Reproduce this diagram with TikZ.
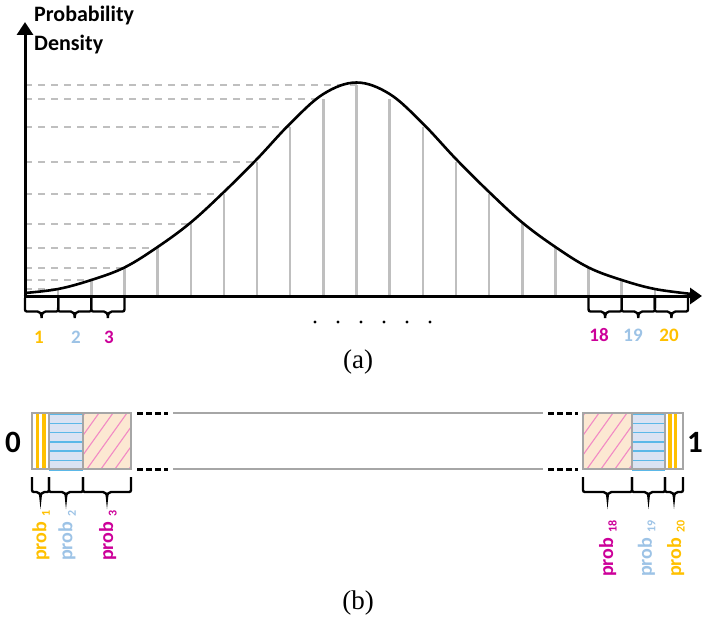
\documentclass[tikz,border=0pt]{standalone}
\usepackage{fontspec}
\newfontfamily\carl{Carlito}
\newfontfamily\tnr{Liberation Serif}
\usetikzlibrary{arrows.meta}
\definecolor{gline}{HTML}{BFBFBF}
\definecolor{gbox}{HTML}{A6A6A6}
\definecolor{orng}{HTML}{FFC000}
\definecolor{lblue}{HTML}{9DC3E6}
\definecolor{mag}{HTML}{CC0099}
\definecolor{hblue}{HTML}{5BB8E8}
\definecolor{bfill}{HTML}{DAE3F3}
\definecolor{pfill}{HTML}{FCE8D2}
\definecolor{pline}{HTML}{F28AC4}
\newcommand{\mybrace}[5]{%
  \pgfmathsetmacro\brmid{(#1+#2)/2}%
  \draw[bracestyle] (#1,#3) -- (#1,#4-4) .. controls (#1,#4) .. (#1+4,#4) -- (\brmid-4,#4) .. controls (\brmid-1.5,#4) and (\brmid,#4+2) .. (\brmid,#5) .. controls (\brmid,#4+2) and (\brmid+1.5,#4) .. (\brmid+4,#4) -- (#2-4,#4) .. controls (#2,#4) .. (#2,#4-4) -- (#2,#3);}
\newcommand{\pb}[1]{prob\kern5pt{\fontsize{12}{12}\selectfont\raisebox{-3.5pt}{#1}}}
\begin{document}
\begin{tikzpicture}[x=1pt,y=-1pt,
  axisline/.style={line width=3pt,black},
  vline/.style={line width=2.5pt,gline},
  hdash/.style={line width=2.5pt,gline,dash pattern=on 7pt off 6pt},
  curveline/.style={line width=2.6pt,black},
  bracestyle/.style={line width=2.3pt,black},
  numlab/.style={font=\carl\bfseries\fontsize{19}{19}\selectfont},
  problab/.style={font=\carl\bfseries\fontsize{20}{20}\selectfont,rotate=90,anchor=west,inner sep=0pt},
  cellborder/.style={line width=2.5pt,gbox},
  blkdash/.style={line width=3pt,black,dash pattern=on 6pt off 3pt},
  grayrule/.style={line width=2.5pt,gbox},
  captext/.style={font=\tnr\fontsize{27}{27}\selectfont}]
\useasboundingbox (0,0) rectangle (703,618);
% ---------- (a) ----------
\coordinate (O) at (25,296);
\coordinate (ytip) at (25,22);
\coordinate (xtip) at (702,296);
\foreach \k/\yy in {1/289,2/280,3/268,4/248,5/224,6/194,7/162,8/127,9/99,10/85}{
  \draw[hdash] (25,\yy) -- ({25+33.15*\k},\yy);
}
\foreach \k/\yy in {1/289,2/280,3/268,4/248,5/224,6/194,7/162,8/127,9/99,10/85,11/99,12/127,13/162,14/194,15/224,16/248,17/268,18/280,19/289}{
  \draw[vline] ({25+33.15*\k},296) -- ({25+33.15*\k},\yy);
}
\draw[curveline] plot[smooth,tension=0.6] coordinates {(25,293) (58.15,289) (91.3,280) (124.45,267.5) (157.6,247) (190.75,222.5) (223.9,192) (257.05,159) (290.2,123.5) (323.35,94) (356.5,82.5) (389.65,94) (422.8,123.5) (455.95,159) (489.1,192) (522.25,222.5) (555.4,247) (588.55,267.5) (621.7,280) (654.85,289) (692,294)};
\draw[axisline,-{Triangle[width=16pt,length=13pt]}] (25,297.5) -- (ytip);
\draw[axisline,-{Triangle[width=16pt,length=12pt]}] (23.5,296) -- (xtip);
\node[font=\carl\bfseries\fontsize{22}{22}\selectfont,anchor=base west,inner sep=0pt] (pr) at (34,22) {Probability};
\node[font=\carl\bfseries\fontsize{22}{22}\selectfont,anchor=base west,inner sep=0pt] (de) at (34,50) {Density};
\foreach \a/\b in {25/58.15,58.15/91.3,91.3/124.45,588.55/621.7,621.7/654.85,654.85/688}{
  \mybrace{\a}{\b}{298}{311.5}{318}
}
\node[numlab,text=orng] (l1) at (39,337) {1};
\node[numlab,text=lblue] (l2) at (76,337) {2};
\node[numlab,text=mag] (l3) at (109,337) {3};
\node[numlab,text=mag] (l18) at (599,335) {18};
\node[numlab,text=lblue] (l19) at (633,335) {19};
\node[numlab,text=orng] (l20) at (669,335) {20};
\foreach \i in {0,...,5}{ \fill ({315+23*\i},322) circle (1.6pt); }
\node[captext] (capa) at (358,362) {(a)};
% ---------- (b) ----------
% left cells
\fill[white] (32,413) rectangle (49,469);
\fill[orng] (36.3,413) rectangle (38.7,469);
\fill[orng] (41.5,413) rectangle (46.2,469);
\fill[bfill] (49,413) rectangle (83,469);
\foreach \i in {0,...,6}{ \draw[hblue,line width=1.5pt] (49,{414+9.3*\i}) -- (83,{414+9.3*\i}); }
\fill[pfill] (83,413) rectangle (131,469);
\begin{scope}
  \clip (83,413) rectangle (131,469);
  \foreach \i in {0,...,7}{ \draw[pline,line width=1.1pt] ({45+14*\i},469) -- ({85+14*\i},413); }
\end{scope}
\draw[cellborder] (32,413) rectangle (49,469);
\draw[cellborder] (49,413) rectangle (83,469);
\draw[cellborder] (83,413) rectangle (131,469);
% right cells
\fill[pfill] (583,413) rectangle (632,469);
\begin{scope}
  \clip (583,413) rectangle (632,469);
  \foreach \i in {0,...,7}{ \draw[pline,line width=1.1pt] ({545+14*\i},469) -- ({585+14*\i},413); }
\end{scope}
\fill[bfill] (632,413) rectangle (665,469);
\foreach \i in {0,...,6}{ \draw[hblue,line width=1.5pt] (632,{414+9.3*\i}) -- (665,{414+9.3*\i}); }
\fill[white] (665,413) rectangle (683,469);
\fill[orng] (668.3,413) rectangle (672.3,469);
\fill[orng] (674.3,413) rectangle (676.7,469);
\draw[cellborder] (583,413) rectangle (632,469);
\draw[cellborder] (632,413) rectangle (665,469);
\draw[cellborder] (665,413) rectangle (683,469);
% connecting lines
\draw[blkdash] (137,413) -- (168,413);
\draw[blkdash] (137,469) -- (168,469);
\draw[grayrule] (173,413) -- (543,413);
\draw[grayrule] (173,469) -- (543,469);
\draw[blkdash] (548,413) -- (578,413);
\draw[blkdash] (548,469) -- (578,469);
\node[font=\carl\bfseries\fontsize{31}{31}\selectfont] (zero) at (13,442) {0};
\node[font=\carl\bfseries\fontsize{31}{31}\selectfont,anchor=east,inner sep=0pt] (one) at (703,442) {1};
\foreach \a/\b in {32/49,49/83,83/131,583/632,632/665,665/683}{
  \mybrace{\a}{\b}{477}{492}{498}
}
\node[problab,text=orng] (p1) at (41,561) {\pb{1}};
\node[problab,text=lblue] (p2) at (67,561) {\pb{2}};
\node[problab,text=mag] (p3) at (108,561) {\pb{3}};
\node[problab,text=mag] (p18) at (608,577) {\pb{18}};
\node[problab,text=lblue] (p19) at (646.5,577) {\pb{19}};
\node[problab,text=orng] (p20) at (676,577) {\pb{20}};
\node[captext] (capb) at (358,603) {(b)};
\end{tikzpicture}
\end{document}
